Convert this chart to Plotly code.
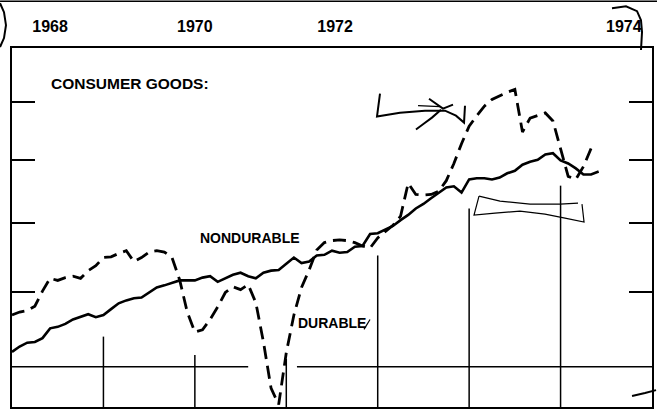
import math
import plotly.graph_objects as go

# ---------------- data (monthly index, ratio-scale values) ----------------
months = list(range(78))

nondurable = [101.9, 102.6, 103.1, 103.2, 103.7, 105.0, 105.2, 105.6, 106.2, 106.6,
              106.9, 106.5, 106.8, 107.6, 108.4, 108.8, 109.1, 109.2, 109.9, 110.6,
              110.9, 111.3, 111.6, 111.6, 111.6, 112.0, 112.2, 111.4, 111.9, 112.4,
              112.7, 112.2, 111.9, 112.7, 113.0, 113.1, 114.0, 114.9, 114.1, 114.3,
              115.2, 115.3, 115.9, 115.6, 115.7, 116.5, 116.6, 118.4, 118.5, 119.0,
              119.6, 120.5, 121.3, 122.3, 123.0, 123.9, 124.8, 125.6, 125.8, 124.8,
              126.9, 127.1, 127.1, 126.9, 127.2, 127.9, 128.3, 129.3, 129.8, 130.1,
              131.0, 131.2, 130.0, 129.5, 128.7, 127.7, 127.7, 128.2]

durable_months = list(range(77))
durable = [106.8, 107.2, 107.4, 108.0, 110.1, 111.9, 111.6, 112.0, 112.2, 111.9,
           113.0, 113.7, 114.9, 115.0, 115.5, 115.9, 114.3, 114.9, 115.7, 115.9,
           115.7, 114.9, 111.7, 107.2, 104.5, 104.8, 106.2, 107.9, 109.9, 110.7,
           110.3, 111.0, 108.5, 103.2, 97.3, 95.3, 101.8, 106.8, 110.6, 113.1,
           116.0, 117.1, 117.4, 117.5, 117.4, 117.1, 116.6, 116.3, 117.8, 118.8,
           119.7, 121.1, 126.3, 124.5, 124.4, 124.5, 125.0, 126.7, 129.5, 132.8,
           135.8, 137.6, 139.3, 140.5, 141.2, 141.8, 142.3, 134.8, 137.2, 137.6,
           138.1, 136.7, 132.0, 127.4, 126.9, 129.0, 132.0]

tick_labels = ["1968", "1970", "1972", "1974"]
tick_label_pos = [5.0, 24.0, 42.4, 80.3]

divider_months = [12, 24, 36, 48, 60, 72]
divider_tops = [103.9, 101.5, 101.0, 115.2, 122.3, 125.9]

y_ticks = [110, 120, 130, 140]
base_level = 100
base_gap = (31.0, 37.4)

x_range = [0, 84]
y_range = [95, 150]

# ---------------- figure ----------------
W, H = 657, 411
ML, MR, MT, MB = 12, 5, 48, 2
PW, PH = W - ML - MR, H - MT - MB


def px(x, y):
    """pixel -> paper coords (for hand-drawn decorations)"""
    return (x - ML) / PW, (H - MB - y) / PH


def path(points, closed=False):
    s = ""
    for i, (x, y) in enumerate(points):
        a, b = px(x, y)
        s += ("M" if i == 0 else "L") + f"{a:.4f},{b:.4f} "
    return s + ("Z" if closed else "")


fig = go.Figure()

# vertical year dividers
for m, top in zip(divider_months, divider_tops):
    fig.add_trace(go.Scatter(x=[m, m], y=[y_range[0], top], mode="lines",
                             line=dict(color="black", width=1.5),
                             hoverinfo="skip", showlegend=False))

# base level line (with gap)
fig.add_trace(go.Scatter(x=[x_range[0], base_gap[0], None, base_gap[1], x_range[1]],
                         y=[base_level, base_level, None, base_level, base_level],
                         mode="lines", line=dict(color="black", width=1.5),
                         hoverinfo="skip", showlegend=False))

fig.add_trace(go.Scatter(x=months, y=nondurable, mode="lines", name="NONDURABLE",
                         line=dict(color="black", width=2.6), showlegend=False))
fig.add_trace(go.Scatter(x=durable_months, y=durable, mode="lines", name="DURABLE",
                         line=dict(color="black", width=2.8, dash="13px,7px"),
                         showlegend=False))

lbl_font = dict(family="Liberation Sans", size=14, color="black", weight="bold")
fig.add_annotation(text="CONSUMER GOODS:", xref="paper", yref="paper",
                   x=px(49, 0)[0], y=px(0, 84)[1], xanchor="left", yanchor="middle",
                   showarrow=False, font=dict(family="Liberation Sans", size=15.5,
                                              color="black", weight="bold"))
fig.add_annotation(text="NONDURABLE", xref="paper", yref="paper",
                   x=px(198, 0)[0], y=px(0, 239)[1], xanchor="left", yanchor="middle",
                   showarrow=False, font=lbl_font)
fig.add_annotation(text="DURABLE", xref="paper", yref="paper",
                   x=px(296, 0)[0], y=px(0, 325)[1], xanchor="left", yanchor="middle",
                   showarrow=False, font=lbl_font)

# hand-drawn marks on the scanned page
scribble = dict(color="black", width=2)
thin = dict(color="black", width=1.2)
shapes = [
    dict(type="path", xref="paper", yref="paper", line=scribble,
         path=path([(0, 3), (4, 12), (6, 25), (4, 38), (0, 47)])),
    dict(type="path", xref="paper", yref="paper", line=scribble,
         path=path([(612, 8), (626, 6), (637, 11), (641, 20), (642, 32), (641, 50)])),
    dict(type="path", xref="paper", yref="paper", line=scribble,
         path=path([(380, 94), (377, 117), (400, 113), (425, 111), (445, 111),
                    (456, 116), (464, 123), (465, 106)])),
    dict(type="path", xref="paper", yref="paper", line=scribble,
         path=path([(429, 99), (443, 109), (453, 105)])),
    dict(type="path", xref="paper", yref="paper", line=scribble,
         path=path([(416, 130), (424, 124), (432, 118), (441, 110)])),
    dict(type="path", xref="paper", yref="paper", line=thin,
         path=path([(418, 106), (440, 107)])),
    dict(type="path", xref="paper", yref="paper", line=thin,
         path=path([(479, 197), (474, 216), (495, 214), (520, 212), (545, 215),
                    (565, 219), (584, 223), (582, 205)])),
    dict(type="path", xref="paper", yref="paper", line=thin,
         path=path([(479, 197), (500, 202), (530, 205), (560, 205), (578, 204)])),
    dict(type="path", xref="paper", yref="paper", line=scribble,
         path=path([(632, 398), (645, 395), (656, 392)])),
    dict(type="path", xref="paper", yref="paper", line=thin,
         path=path([(364, 331), (370, 321)])),
    dict(type="path", xref="paper", yref="paper", line=dict(color="black", width=1.5),
         path=path([(0, 1), (657, 1)])),
]

fig.update_layout(
    width=W, height=H,
    margin=dict(l=ML, r=MR, t=MT, b=MB),
    paper_bgcolor="white", plot_bgcolor="white",
    shapes=shapes,
    xaxis=dict(range=x_range, side="top", showline=True, mirror=True,
               linecolor="black", linewidth=2, showgrid=False, zeroline=False,
               ticks="", tickvals=tick_label_pos, ticktext=tick_labels,
               ticklabelstandoff=8,
               tickfont=dict(family="Liberation Sans", size=16, color="black",
                             weight="bold")),
    yaxis=dict(type="log", range=[math.log10(y_range[0]), math.log10(y_range[1])],
               showline=True, mirror="ticks", linecolor="black", linewidth=2,
               showgrid=False, zeroline=False, ticks="inside", ticklen=23,
               tickwidth=1.5, tickcolor="black", tickvals=y_ticks,
               showticklabels=False),
    showlegend=False,
)

fig.write_html("out.html",
               config={"displayModeBar": False},
               post_script="document.body.style.margin='0';"
                           "document.body.style.padding='0';"
                           "document.body.style.overflow='hidden';")
